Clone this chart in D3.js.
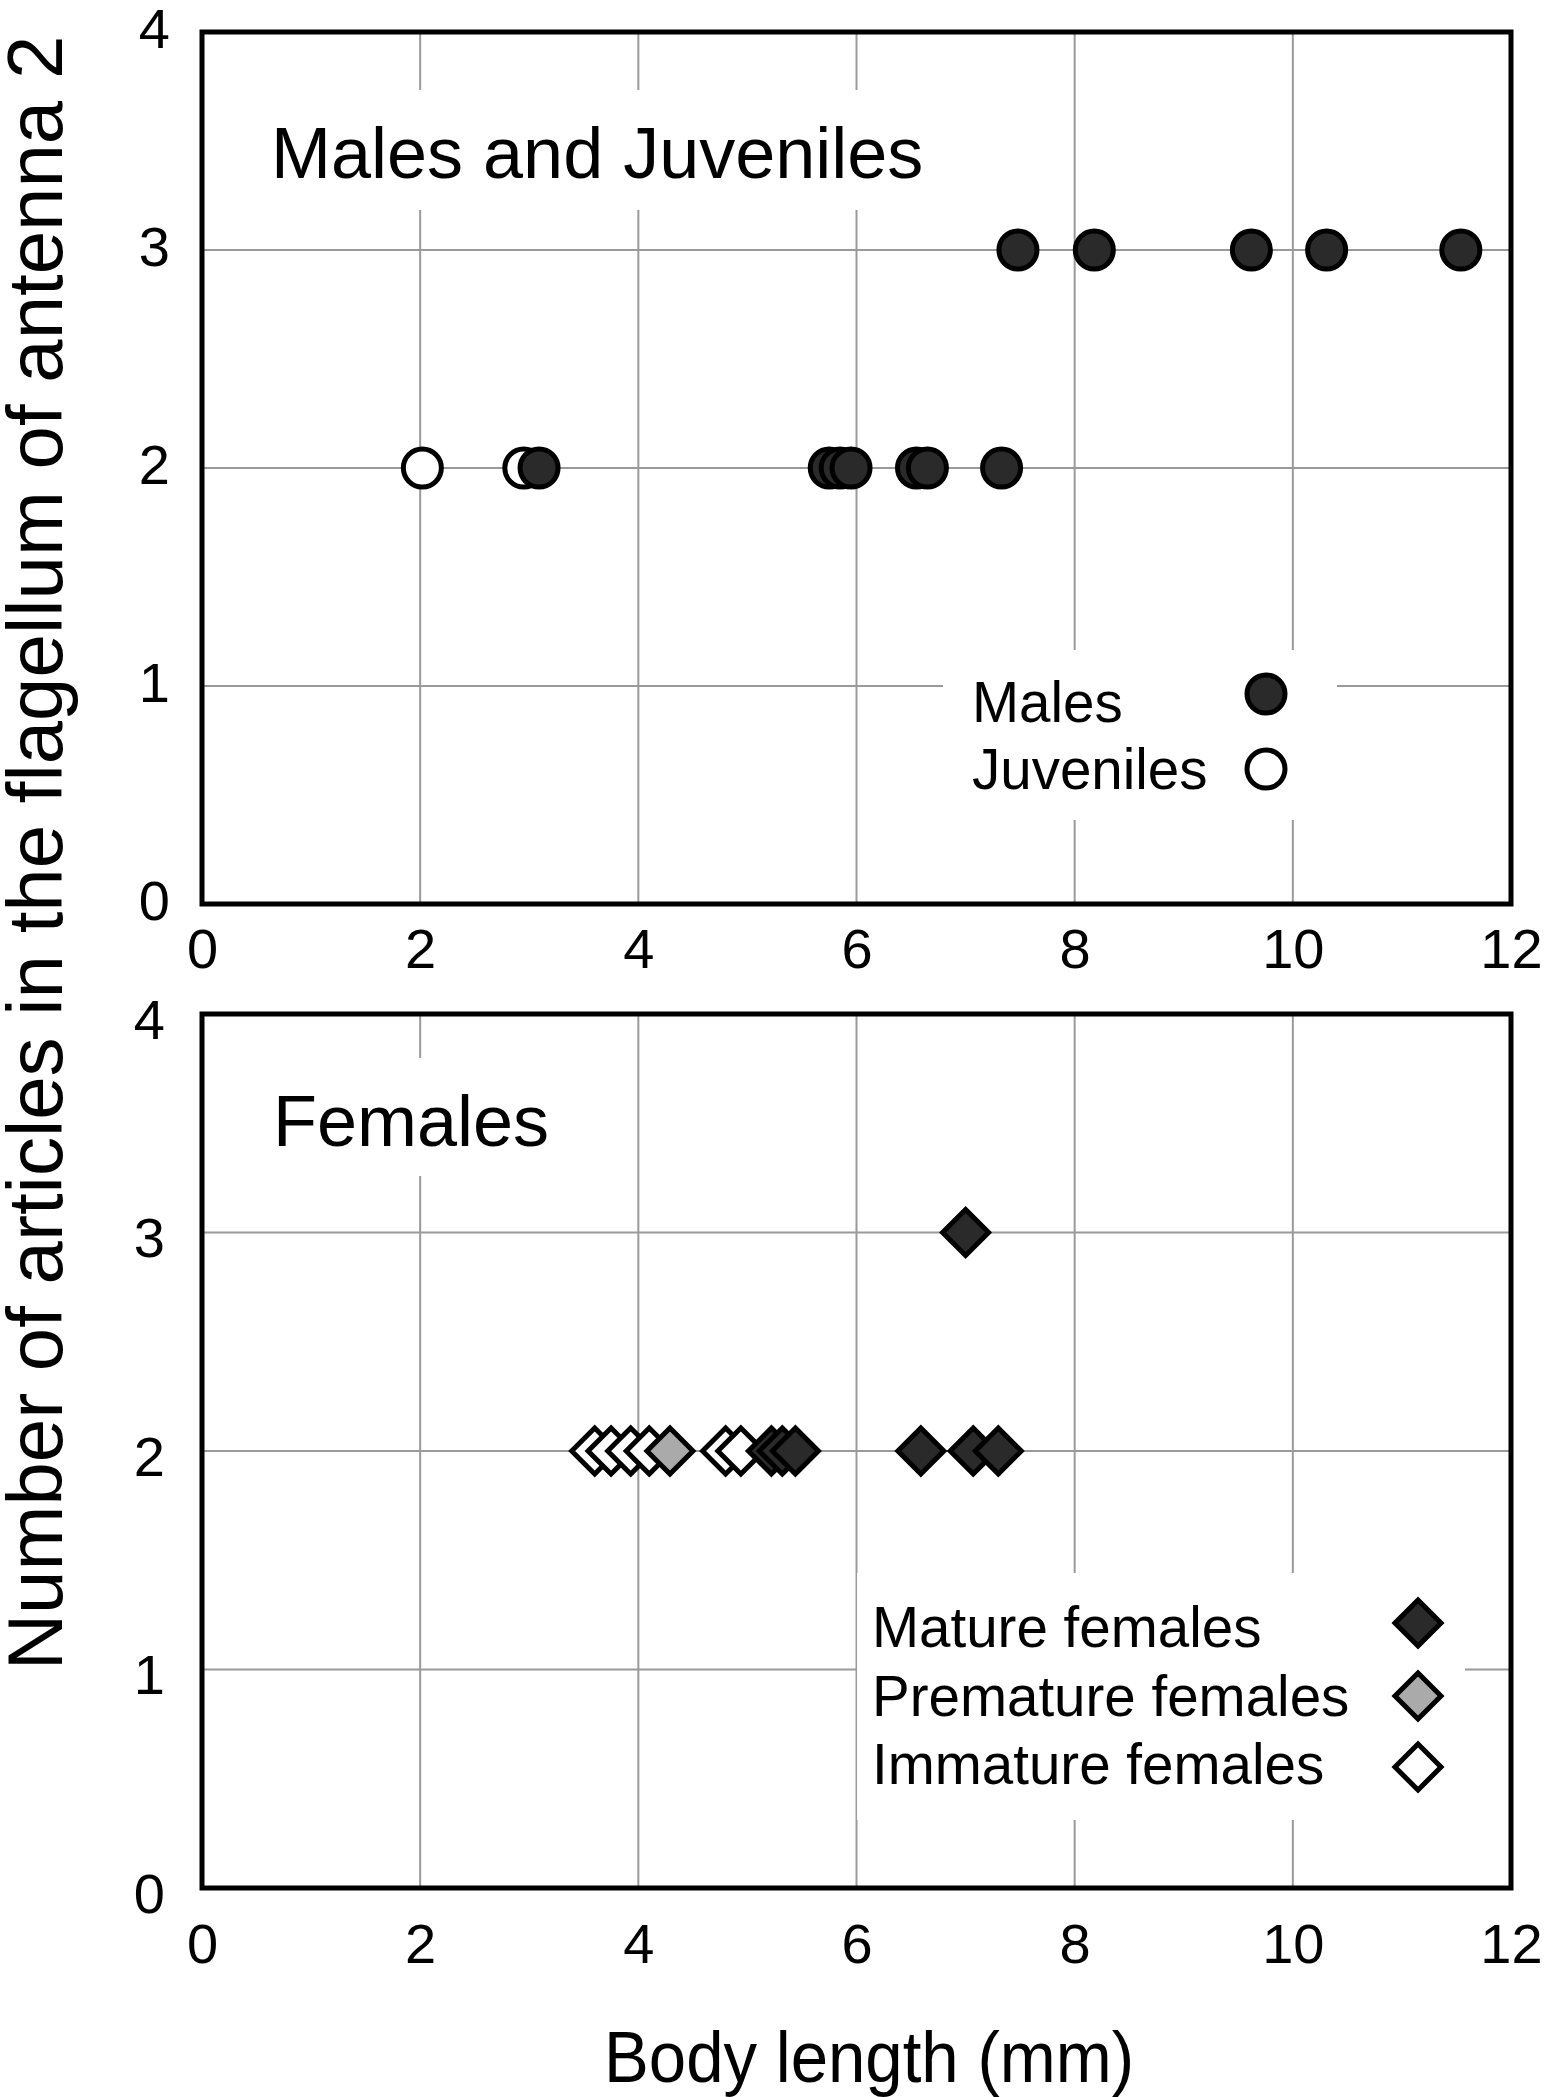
<!DOCTYPE html>
<html>
<head>
<meta charset="utf-8">
<script src="https://cdn.jsdelivr.net/npm/d3@7"></script>
<style>
  html, body { margin: 0; padding: 0; background: #fff; }
  svg { display: block; }
  text { font-family: "Liberation Sans", Arial, Helvetica, sans-serif; fill: #000; }
</style>
</head>
<body>
<svg id="chart" width="1547" height="2097"></svg>
<script>
// ---------- data ----------
const xTicks = [0, 2, 4, 6, 8, 10, 12];
const yTicks = [0, 1, 2, 3, 4];
const gridX = [2, 4, 6, 8, 10];
const gridY = [1, 2, 3];

const juvenilesX = [2.02, 2.95];
const juvenilesY = [2, 2];
const malesX = [3.09, 5.75, 5.85, 5.95, 6.55, 6.65, 7.33, 7.48, 8.18, 9.62, 10.31, 11.54];
const malesY = [2, 2, 2, 2, 2, 2, 2, 3, 3, 3, 3, 3];

const immatureX = [3.60, 3.75, 3.93, 4.10, 4.80, 4.94];
const immatureY = [2, 2, 2, 2, 2, 2];
const prematureX = [4.29];
const prematureY = [2];
const matureX = [5.22, 5.32, 5.44, 6.59, 7.07, 7.30, 7.00];
const matureY = [2, 2, 2, 2, 2, 2, 3];

const topTitle = "Males and Juveniles";
const bottomTitle = "Females";
const topLegend = ["Males", "Juveniles"];
const bottomLegend = ["Mature females", "Premature females", "Immature females"];
const xAxisTitle = "Body length (mm)";
const yAxisTitle = "Number of articles in the flagellum of antenna 2";

// ---------- styles ----------
const COL_DARK = "#2a2a2a";
const COL_GRAY = "#aaaaaa";
const COL_WHITE = "#ffffff";
const GRID = "#9a9a9a";

const svg = d3.select("#chart");

const left = 202, right = 1511;
const panels = [
  { top: 32, bottom: 904, xLabelDy: 64, yLabelDy: -5, yLabelX: 170 },
  { top: 1014, bottom: 1888, xLabelDy: 75, yLabelDy: 4, yLabelX: 165 }
];

const x = d3.scaleLinear().domain([0, 12]).range([left, right]);

function diamondPath(h) {
  return `M0,${-h}L${h},0L0,${h}L${-h},0Z`;
}

function drawPanel(p, opts) {
  const y = d3.scaleLinear().domain([0, 4]).range([p.bottom, p.top]);
  const g = svg.append("g");

  // grid
  g.selectAll(".gx").data(gridX).enter().append("line")
    .attr("x1", d => x(d)).attr("x2", d => x(d))
    .attr("y1", p.top).attr("y2", p.bottom)
    .attr("stroke", GRID).attr("stroke-width", 2);
  g.selectAll(".gy").data(gridY).enter().append("line")
    .attr("x1", left).attr("x2", right)
    .attr("y1", d => y(d)).attr("y2", d => y(d))
    .attr("stroke", GRID).attr("stroke-width", 2);

  // title background and title
  g.append("rect")
    .attr("x", opts.titleBox[0]).attr("y", opts.titleBox[1])
    .attr("width", opts.titleBox[2]).attr("height", opts.titleBox[3])
    .attr("fill", "#fff");
  g.append("text")
    .attr("x", opts.titlePos[0]).attr("y", opts.titlePos[1])
    .attr("font-size", 72)
    .text(opts.title);

  // legend background
  g.append("rect")
    .attr("x", opts.legendBox[0]).attr("y", opts.legendBox[1])
    .attr("width", opts.legendBox[2]).attr("height", opts.legendBox[3])
    .attr("fill", "#fff");

  // axes via d3 (labels only, frame drawn separately)
  const xAxis = d3.axisBottom(x).tickValues(xTicks).tickSize(0).tickPadding(0)
    .tickFormat(d3.format("d"));
  const xg = g.append("g").attr("transform", `translate(0,${p.bottom})`).call(xAxis);
  xg.select(".domain").remove();
  xg.selectAll("text")
    .attr("y", p.xLabelDy).attr("dy", 0)
    .attr("font-size", 56)
    .attr("font-family", '"Liberation Sans", Arial, sans-serif')
    .attr("fill", "#000");

  const yAxis = d3.axisLeft(y).tickValues(yTicks).tickSize(0).tickPadding(0)
    .tickFormat(d3.format("d"));
  const yg = g.append("g").attr("transform", `translate(${p.yLabelX},0)`).call(yAxis);
  yg.select(".domain").remove();
  yg.selectAll("text")
    .attr("x", 0).attr("dy", "0.36em")
    .attr("y", p.yLabelDy)
    .attr("font-size", 56)
    .attr("font-family", '"Liberation Sans", Arial, sans-serif')
    .attr("fill", "#000");

  return { g, y };
}

// ---------- top panel ----------
const P1 = drawPanel(panels[0], {
  title: topTitle,
  titlePos: [271, 178],
  titleBox: [262, 90, 675, 120],
  legendBox: [943, 650, 394, 170]
});
{
  const { g, y } = P1;
  const juv = juvenilesX.map((v, i) => ({ x: v, y: juvenilesY[i] }));
  const mal = malesX.map((v, i) => ({ x: v, y: malesY[i] })).sort((a, b) => a.x - b.x);
  g.selectAll(".juv").data(juv).enter().append("circle")
    .attr("cx", d => x(d.x)).attr("cy", d => y(d.y)).attr("r", 19)
    .attr("fill", COL_WHITE).attr("stroke", "#000").attr("stroke-width", 5);
  g.selectAll(".mal").data(mal).enter().append("circle")
    .attr("cx", d => x(d.x)).attr("cy", d => y(d.y)).attr("r", 19)
    .attr("fill", COL_DARK).attr("stroke", "#000").attr("stroke-width", 5);

  // legend
  const leg = [
    { label: topLegend[0], fill: COL_DARK, ty: 722, my: 694 },
    { label: topLegend[1], fill: COL_WHITE, ty: 789, my: 769 }
  ];
  leg.forEach(d => {
    g.append("text").attr("x", 972).attr("y", d.ty).attr("font-size", 56.5).text(d.label);
    g.append("circle").attr("cx", 1266).attr("cy", d.my).attr("r", 19)
      .attr("fill", d.fill).attr("stroke", "#000").attr("stroke-width", 5);
  });
}

// ---------- bottom panel ----------
const P2 = drawPanel(panels[1], {
  title: bottomTitle,
  titlePos: [273, 1146],
  titleBox: [262, 1058, 300, 118],
  legendBox: [857, 1573, 608, 247]
});
{
  const { g, y } = P2;
  const groups = [
    { xs: immatureX, ys: immatureY, fill: COL_WHITE },
    { xs: prematureX, ys: prematureY, fill: COL_GRAY },
    { xs: matureX, ys: matureY, fill: COL_DARK }
  ];
  groups.forEach(grp => {
    const pts = grp.xs.map((v, i) => ({ x: v, y: grp.ys[i] })).sort((a, b) => a.x - b.x);
    g.selectAll(null).data(pts).enter().append("path")
      .attr("d", diamondPath(23))
      .attr("transform", d => `translate(${x(d.x)},${y(d.y)})`)
      .attr("fill", grp.fill).attr("stroke", "#000").attr("stroke-width", 5)
      .attr("stroke-linejoin", "miter");
  });

  const leg = [
    { label: bottomLegend[0], fill: COL_DARK, ty: 1647, my: 1623 },
    { label: bottomLegend[1], fill: COL_GRAY, ty: 1716, my: 1696 },
    { label: bottomLegend[2], fill: COL_WHITE, ty: 1784, my: 1767 }
  ];
  leg.forEach(d => {
    g.append("text").attr("x", 872).attr("y", d.ty).attr("font-size", 56.5).text(d.label);
    g.append("path").attr("d", diamondPath(23))
      .attr("transform", `translate(1418,${d.my})`)
      .attr("fill", d.fill).attr("stroke", "#000").attr("stroke-width", 5);
  });
}

// ---------- frames ----------
panels.forEach(p => {
  svg.append("rect")
    .attr("x", left).attr("y", p.top)
    .attr("width", right - left).attr("height", p.bottom - p.top)
    .attr("fill", "none").attr("stroke", "#000").attr("stroke-width", 5);
});

// ---------- axis titles ----------
svg.append("text")
  .attr("x", 869).attr("y", 2082)
  .attr("text-anchor", "middle")
  .attr("font-size", 73)
  .attr("textLength", 530).attr("lengthAdjust", "spacingAndGlyphs")
  .text(xAxisTitle);

svg.append("text")
  .attr("transform", "translate(62,853) rotate(-90)")
  .attr("text-anchor", "middle")
  .attr("font-size", 78)
  .text(yAxisTitle);
</script>
</body>
</html>
